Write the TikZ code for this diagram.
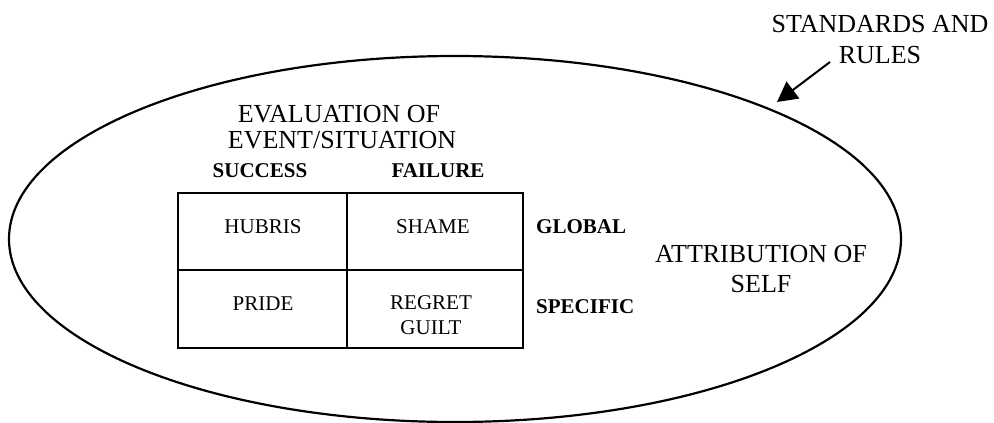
\documentclass[tikz,border=0pt]{standalone}
\usepackage{fontspec}
\setmainfont{Liberation Serif}
\usetikzlibrary{arrows.meta}
\begin{document}
\begin{tikzpicture}[x=1pt,y=-1pt,
  bigtxt/.style={font=\fontsize{26}{28}\selectfont, inner sep=0pt, anchor=base},
  celltxt/.style={font=\fontsize{21}{22}\selectfont, inner sep=0pt, anchor=base},
  headtxt/.style={font=\fontsize{21}{22}\selectfont\bfseries, inner sep=0pt, anchor=base},
  outline/.style={line width=2.2pt},
  grid/.style={line width=1.8pt},
  pointer/.style={line width=2pt, -{Triangle[length=20pt,width=21pt]}}]
  \useasboundingbox (0,0) rectangle (994,423);

  % outer ellipse: the self
  \draw[outline] (455,239) ellipse [x radius=446, y radius=183];

  % label and arrow pointing at the ellipse
  \node[bigtxt] (std1) at (880,32) {STANDARDS AND};
  \node[bigtxt] (std2) at (880,63) {RULES};
  \coordinate (arrA) at (830,62);
  \coordinate (arrB) at (777,102);
  \draw[pointer] (arrA) -- (arrB);

  % evaluation heading
  \node[bigtxt] (eval1) at (339,122) {EVALUATION OF};
  \node[bigtxt] (eval2) at (342,148) {EVENT/SITUATION};
  \node[headtxt] (succ) at (260,177) {SUCCESS};
  \node[headtxt] (fail) at (438,177) {FAILURE};

  % 2x2 table
  \coordinate (tl) at (178,193);
  \coordinate (br) at (523,348);
  \draw[grid] (tl) rectangle (br);
  \draw[grid] (347,193) -- (347,348);
  \draw[grid] (178,270) -- (523,270);

  \node[celltxt] (hub) at (263,233) {HUBRIS};
  \node[celltxt] (sha) at (433,233) {SHAME};
  \node[celltxt] (pri) at (263,310) {PRIDE};
  \node[celltxt] (reg) at (431,309) {REGRET};
  \node[celltxt] (gui) at (431,334) {GUILT};

  % row labels
  \node[headtxt, anchor=base west] (glob) at (536,233) {GLOBAL};
  \node[headtxt, anchor=base west] (spec) at (536,313) {SPECIFIC};

  % attribution label
  \node[bigtxt] (att1) at (761,262) {ATTRIBUTION OF};
  \node[bigtxt] (att2) at (761,292) {SELF};
\end{tikzpicture}
\end{document}
